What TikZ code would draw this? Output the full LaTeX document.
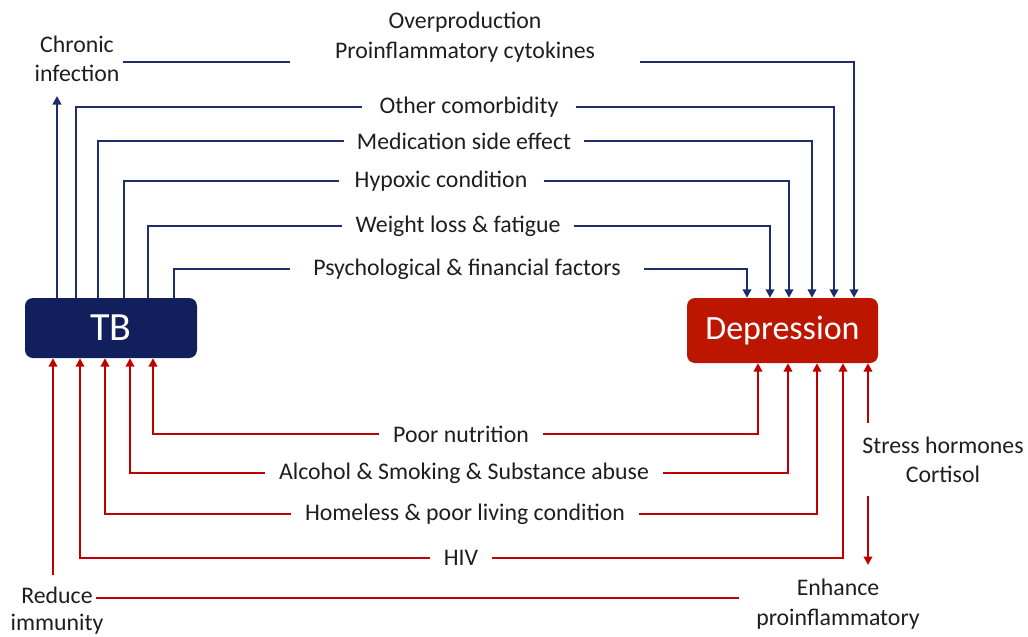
\documentclass[tikz,border=0pt]{standalone}
\usepackage{fontspec}
\setmainfont{Carlito}
\usetikzlibrary{arrows.meta}
\definecolor{navy}{HTML}{1F2D6B}
\definecolor{tbnavy}{HTML}{111F5C}
\definecolor{deepred}{HTML}{C00000}
\definecolor{boxred}{HTML}{BC1500}
\definecolor{ink}{HTML}{1E1E1E}
\tikzset{
  lbl/.style={font=\fontsize{23.8}{29}\selectfont, text=ink, inner xsep=14pt, inner ysep=2pt, align=center},
  navyline/.style={draw=navy, line width=2.8pt},
  redline/.style={draw=deepred, line width=2.8pt},
  tip/.style={-{Triangle[length=8.5pt,width=8.5pt]}},
  bigbox/.style={rounded corners=8pt, text=white, inner sep=0pt},
}
\begin{document}
\begin{tikzpicture}[x=1pt,y=-1pt]
\useasboundingbox (0,0) rectangle (1028,637);

% the two main boxes
\node[bigbox, fill=tbnavy, minimum width=172pt, minimum height=60pt,
      font=\fontsize{40}{40}\selectfont] (TB) at (111,328) {TB};
\node[bigbox, fill=boxred, minimum width=191pt, minimum height=65pt,
      font=\fontsize{34}{34}\selectfont] (Dep) at (782.5,330.5) {Depression};

% labels of the upper (TB -> depression) pathways
\node[lbl, anchor=south, inner xsep=3pt, inner ysep=14pt] (chron) at (77,96) {Chronic\\infection};
\node[lbl, font=\fontsize{23.8}{30}\selectfont, inner xsep=45pt] (ov) at (465,37) {Overproduction\\Proinflammatory cytokines};
\node[lbl, inner xsep=17pt] (oc) at (469,107) {Other comorbidity};
\node[lbl, inner xsep=13pt] (ms) at (464,141) {Medication side effect};
\node[lbl, inner xsep=16pt] (hc) at (441,181) {Hypoxic condition};
\node[lbl, inner xsep=13pt] (wl) at (458,226) {Weight loss \& fatigue};
\node[lbl, inner xsep=23pt] (pf) at (467,269) {Psychological \& financial factors};

% labels of the lower (shared risk factor) pathways
\node[lbl] (pn) at (461,434) {Poor nutrition};
\node[lbl] (al) at (464,473) {Alcohol \& Smoking \& Substance abuse};
\node[lbl] (hl) at (465,514) {Homeless \& poor living condition};
\node[lbl] (hiv) at (461,558) {HIV};
\node[lbl, font=\fontsize{23.8}{27}\selectfont, anchor=north, inner xsep=0pt, inner ysep=12pt] (red) at (57,575) {Reduce\\immunity};
\node[lbl, font=\fontsize{23.8}{30}\selectfont, anchor=north, inner xsep=17pt, inner ysep=14pt] (enh) at (838,565) {Enhance\\proinflammatory};
\node[lbl, inner xsep=0pt, inner ysep=0pt, minimum height=73pt] (stress) at (943,459.5) {Stress hormones\\Cortisol};

% TB -> chronic infection
\draw[navyline, tip] (TB.north -| 57,0) -- (chron.south -| 57,0);

% upper pathways: TB -> label -> depression
\draw[navyline] (chron.east |- 0,62) -- (ov.west |- 0,62);
\draw[navyline, tip] (ov.east |- 0,62) -| (Dep.north -| 854,0);
\draw[navyline] (TB.north -| 76,0) |- (oc.west);
\draw[navyline, tip] (oc.east) -| (Dep.north -| 834,0);
\draw[navyline] (TB.north -| 98,0) |- (ms.west);
\draw[navyline, tip] (ms.east) -| (Dep.north -| 812,0);
\draw[navyline] (TB.north -| 124,0) |- (hc.west);
\draw[navyline, tip] (hc.east) -| (Dep.north -| 789,0);
\draw[navyline] (TB.north -| 148,0) |- (wl.west);
\draw[navyline, tip] (wl.east) -| (Dep.north -| 770,0);
\draw[navyline] (TB.north -| 174,0) |- (pf.west);
\draw[navyline, tip] (pf.east) -| (Dep.north -| 747,0);

% lower pathways: label -> TB and label -> depression
\draw[redline, tip] (pn.west) -| (TB.south -| 153,0);
\draw[redline, tip] (pn.east) -| (Dep.south -| 758,0);
\draw[redline, tip] (al.west) -| (TB.south -| 130,0);
\draw[redline, tip] (al.east) -| (Dep.south -| 788,0);
\draw[redline, tip] (hl.west) -| (TB.south -| 105,0);
\draw[redline, tip] (hl.east) -| (Dep.south -| 817,0);
\draw[redline, tip] (hiv.west) -| (TB.south -| 80,0);
\draw[redline, tip] (hiv.east) -| (Dep.south -| 843,0);

% reduce immunity -> TB, and its link to enhanced inflammation
\draw[redline, tip] (red.north -| 53,0) -- (TB.south -| 53,0);
\draw[redline] ([xshift=-8pt]red.east |- 0,598) -- (enh.west |- 0,598);

% stress hormones between depression and inflammation
\draw[redline, tip] (stress.north -| 868,0) -- (Dep.south -| 868,0);
\draw[redline, tip] (stress.south -| 868,0) -- (enh.north -| 868,0);
\end{tikzpicture}
\end{document}
